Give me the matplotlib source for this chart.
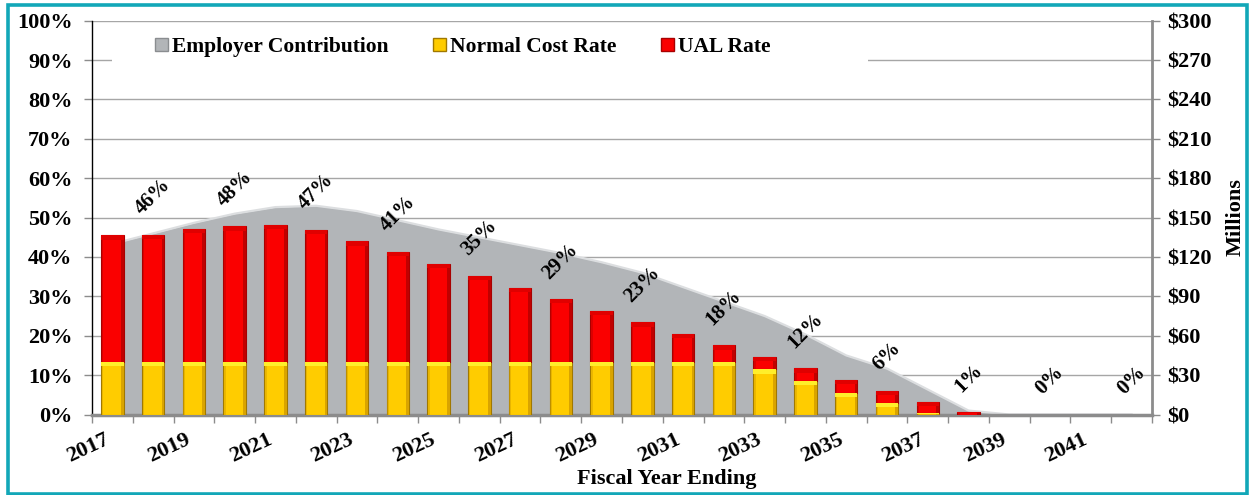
import matplotlib
matplotlib.use("Agg")
import matplotlib.pyplot as plt
from matplotlib.patches import Patch, Rectangle
import numpy as np

# ---------------- data ----------------
years = [2017, 2018, 2019, 2020, 2021, 2022, 2023, 2024, 2025, 2026, 2027, 2028, 2029,
         2030, 2031, 2032, 2033, 2034, 2035, 2036, 2037, 2038, 2039, 2040, 2041, 2042]
normal_cost = [13.4, 13.4, 13.4, 13.4, 13.4, 13.4, 13.4, 13.4, 13.4, 13.4, 13.4, 13.4, 13.4,
               13.4, 13.4, 13.4, 11.5, 8.5, 5.5, 3.0, 0.3, 0.0, 0.0, 0.0, 0.0, 0.0]
ual_rate = [32.1, 32.2, 33.7, 34.4, 34.7, 33.5, 30.6, 27.9, 24.9, 21.8, 18.8, 15.9, 12.9,
            10.0, 7.0, 4.2, 3.1, 3.2, 3.3, 3.0, 2.9, 0.6, 0.0, 0.0, 0.0, 0.0]
employer_contrib = [130, 138, 146, 153, 158, 159, 155, 148, 141, 135, 129, 123, 116,
                    108, 97, 86, 75, 61, 45, 35, 19, 3, 0, 0, 0, 0]  # $ millions
pct_ticks = [0, 10, 20, 30, 40, 50, 60, 70, 80, 90, 100]
dollar_ticks = [0, 30, 60, 90, 120, 150, 180, 210, 240, 270, 300]

# ---------------- style ----------------
FONT = ['Liberation Serif', 'DejaVu Serif']
plt.rcParams['font.family'] = FONT
plt.rcParams['font.weight'] = 'bold'

RED, RED_TOP, RED_EDGE, RED_SIDE = '#FA0000', '#E00000', '#A80000', '#C00000'
YEL, YEL_TOP, YEL_EDGE, YEL_SIDE = '#FFCC00', '#FFEE2A', '#A07800', '#D9A400'
GRAY, GRAY_EDGE = '#B2B5B8', '#DCDEE0'
AXGRAY = '#8C8C8C'
GRIDC = '#A6A6A6'
TEAL = '#12A7B8'
FS = 16

W, H = 1249, 495
fig = plt.figure(figsize=(W / 100, H / 100), dpi=100)
fig.patch.set_facecolor('white')

left, right, bottom, top = 92 / W, 1152 / W, (H - 414.5) / H, (H - 20.7) / H
ax2 = fig.add_axes([left, bottom, right - left, top - bottom])   # $ axis (back)
ax = fig.add_axes([left, bottom, right - left, top - bottom], sharex=ax2)  # % axis (front)
ax.patch.set_visible(False)

x = np.arange(len(years))

# ---- back axis: gridlines + employer contribution area ----
ax2.set_ylim(0, 300)
ax2.set_yticks(dollar_ticks)
ax2.set_yticklabels([f'${v}' for v in dollar_ticks])
ax2.yaxis.tick_right()
ax2.yaxis.set_label_position('right')
ax2.grid(axis='y', color=GRIDC, linewidth=1.0)
ax2.set_axisbelow(True)
ax2.fill_between(x, employer_contrib, 0, color=GRAY, zorder=2, linewidth=0)
ax2.plot(x, employer_contrib, color=GRAY_EDGE, linewidth=1.6, zorder=3)
for s in ['top', 'left', 'bottom']:
    ax2.spines[s].set_visible(False)
ax2.spines['right'].set_color(AXGRAY)
ax2.spines['right'].set_linewidth(2)
ax2.tick_params(axis='y', direction='out', length=6, color=AXGRAY, width=1,
                labelsize=FS, pad=5)
ax2.tick_params(axis='x', which='both', bottom=False, labelbottom=False)
for t in ax2.get_yticklabels():
    t.set_fontweight('bold')

# ---- front axis: bars ----
ax.set_ylim(0, 100)
ax.set_xlim(-0.5, len(years) - 0.5)
bw = 0.55
side = 0.07


def draw_segment(xi, b, h, face, topc, edge, sidec):
    if h <= 0:
        return
    ax.bar(xi, h, bottom=b, width=bw, color=face, edgecolor=edge, linewidth=0.8, zorder=3)
    ax.bar(xi + bw / 2 - side / 2, h, bottom=b, width=side, color=sidec, linewidth=0, zorder=3.1)
    ax.bar(xi - bw / 2 + side / 2, h, bottom=b, width=side * 0.6, color=sidec, alpha=0.5,
           linewidth=0, zorder=3.1)
    bev = min(h * 0.5, 1.1)
    ax.bar(xi, bev, bottom=b + h - bev, width=bw, color=topc, linewidth=0, zorder=3.2)


for xi, nc, ual in zip(x, normal_cost, ual_rate):
    draw_segment(xi, 0, nc, YEL, YEL_TOP, YEL_EDGE, YEL_SIDE)
    draw_segment(xi, nc, ual, RED, RED_TOP, RED_EDGE, RED_SIDE)

# data labels (total rate) on every other year
for xi, nc, ual in zip(x, normal_cost, ual_rate):
    if xi % 2 == 1:
        total = nc + ual
        ax.annotate(f'{total:.0f}%', xy=(xi, total), xytext=(0, 16),
                    textcoords='offset pixels', rotation=45, ha='center', va='bottom',
                    family=FONT, fontsize=15, fontweight='bold', zorder=6)

ax.set_yticks(pct_ticks)
ax.set_yticklabels([f'{v}%' for v in pct_ticks])
ax.tick_params(axis='y', direction='out', length=6, color=AXGRAY, width=1,
               labelsize=FS, pad=8)
ax.set_xticks(x[::2])
ax.set_xticklabels([str(y) for y in years[::2]], rotation=25, ha='right',
                   fontsize=FS, fontweight='bold')
ax.set_xticks(np.arange(-0.5, len(years), 1.0), minor=True)
ax.tick_params(axis='x', which='major', length=0, pad=11)
ax.tick_params(axis='x', which='minor', direction='out', length=6, color=AXGRAY, width=1)
for t in ax.get_yticklabels():
    t.set_fontweight('bold')
for s in ['top', 'right']:
    ax.spines[s].set_visible(False)
ax.spines['left'].set_color('black')
ax.spines['left'].set_linewidth(1)
ax.spines['bottom'].set_color(AXGRAY)
ax.spines['bottom'].set_linewidth(2.5)

# legend with white background interrupting the 90% gridline
ax2.add_patch(Rectangle((0.019, 0.87), 0.713, 0.10, transform=ax2.transAxes,
                        facecolor='white', edgecolor='none', zorder=1))
handles = [Patch(facecolor=GRAY, edgecolor='#8A8D90', label='Employer Contribution'),
           Patch(facecolor=YEL, edgecolor=YEL_EDGE, label='Normal Cost Rate'),
           Patch(facecolor=RED, edgecolor=RED_EDGE, label='UAL Rate')]
leg = ax.legend(handles=handles, loc='center left', bbox_to_anchor=(0.0594, 0.933),
                ncol=3, frameon=False, borderpad=0, borderaxespad=0,
                handlelength=0.6, handleheight=0.6,
                handletextpad=0.2, columnspacing=2.05,
                prop={'family': FONT, 'weight': 'bold', 'size': 15.5})

# axis titles
fig.text(667 / W, 1 - 479 / H, 'Fiscal Year Ending', ha='center', va='center',
         fontsize=FS, fontweight='bold')
fig.text(1236 / W, 1 - 217 / H, 'Millions', ha='center', va='center', rotation=90,
         fontsize=FS, fontweight='bold')

# teal frame
fig.add_artist(Rectangle((8 / W, 1.2 / H), (1247.3 - 8) / W, (490 - 1.2) / H,
                         transform=fig.transFigure, facecolor='none', edgecolor=TEAL,
                         linewidth=2.6))

fig.savefig('out.png', dpi=100)
